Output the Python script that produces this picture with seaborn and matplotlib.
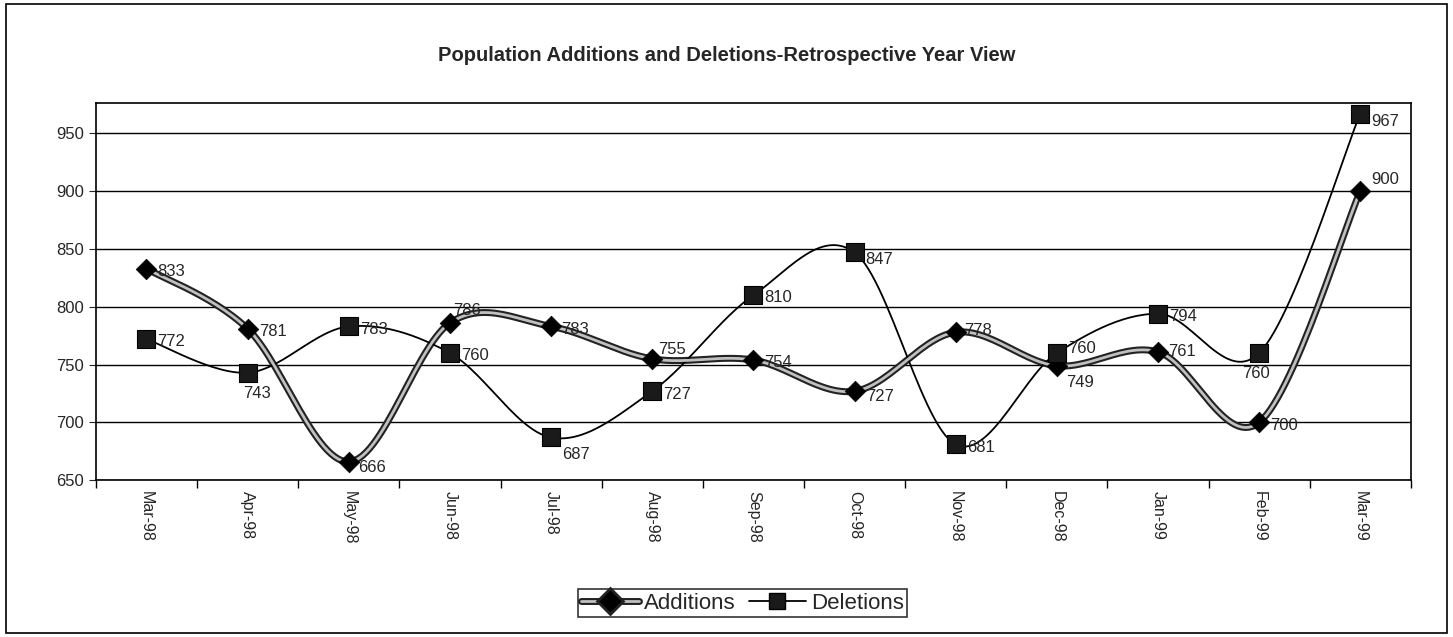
import seaborn as sns
import matplotlib.pyplot as plt
import numpy as np
from matplotlib.lines import Line2D
from matplotlib.patches import Rectangle
from matplotlib.ticker import FixedLocator
import matplotlib.patheffects as pe

# Chart data
months = ["Mar-98", "Apr-98", "May-98", "Jun-98", "Jul-98", "Aug-98", "Sep-98",
          "Oct-98", "Nov-98", "Dec-98", "Jan-99", "Feb-99", "Mar-99"]
additions = [833, 781, 666, 786, 783, 755, 754, 727, 778, 749, 761, 700, 900]
deletions = [772, 743, 783, 760, 687, 727, 810, 847, 681, 760, 794, 760, 967]

# label offsets in points (style only)
add_off = [(8, -2), (8, -2), (7, -4), (2, 9), (7, -2), (4, 7), (8, -2),
           (8, -4), (6, 1), (7, -12), (7, 0), (8, -2), (8, 8)]
del_off = [(8, -2), (-3, -15), (8, -2), (8, -2), (8, -12), (8, -2), (8, -2),
           (8, -5), (8, -2), (8, 3), (8, -2), (-12, -15), (8, -6)]


def smooth(y, n=30):
    # Bezier curve through the points, like Excel's smoothed line
    y = np.asarray(y, float)
    x = np.arange(len(y), dtype=float)
    px = np.concatenate([[x[0]], x, [x[-1]]])
    py = np.concatenate([[y[0]], y, [y[-1]]])
    xs, ys = [], []
    t = np.linspace(0, 1, n)
    for i in range(1, len(px) - 2):
        for p, out in ((px, xs), (py, ys)):
            p0, p1, p2, p3 = p[i - 1], p[i], p[i + 1], p[i + 2]
            c1 = p1 + (p2 - p0) / 6
            c2 = p2 - (p3 - p1) / 6
            out.extend((1 - t) ** 3 * p1 + 3 * (1 - t) ** 2 * t * c1
                       + 3 * (1 - t) * t ** 2 * c2 + t ** 3 * p2)
    return np.array(xs), np.array(ys)


sns.set_style("white")
plt.rcParams['font.family'] = ['Liberation Sans', 'DejaVu Sans']

fig = plt.figure(figsize=(14.53, 6.37), dpi=100)
ax = fig.add_axes([0.066, 0.246, 0.905, 0.592])
fig.patches.append(Rectangle((0.004, 0.006), 0.992, 0.988, transform=fig.transFigure,
                             fill=False, edgecolor='black', linewidth=1.2))

idx = np.arange(len(months))

ax_, ay_ = smooth(additions)
dx_, dy_ = smooth(deletions)
sns.lineplot(x=ax_, y=ay_, sort=False, ax=ax, color='#222222', linewidth=5, zorder=3)
sns.lineplot(x=ax_, y=ay_, sort=False, ax=ax, color='#c0c0c0', linewidth=2, zorder=3.1)
sns.lineplot(x=dx_, y=dy_, sort=False, ax=ax, color='black', linewidth=1.3, zorder=3)

sns.scatterplot(x=idx, y=additions, marker='D', s=110, color='black',
                edgecolor='black', linewidth=0.5, ax=ax, zorder=5)
sns.scatterplot(x=idx, y=deletions, marker='s', s=150, color='#1a1a1a',
                edgecolor='black', linewidth=0.8, ax=ax, zorder=5)

for i in idx:
    ax.annotate(str(additions[i]), (i, additions[i]), xytext=add_off[i],
                textcoords='offset points', fontsize=12, ha='left', va='center', zorder=6)
    ax.annotate(str(deletions[i]), (i, deletions[i]), xytext=del_off[i],
                textcoords='offset points', fontsize=12, ha='left', va='center', zorder=6)

ax.set_xlim(-0.5, len(months) - 0.5)
ax.set_ylim(650, 976)
ax.set_yticks(range(650, 951, 50))
ax.set_xticks(idx)
ax.set_xticklabels(months, rotation=270, fontsize=11.5)
ax.xaxis.set_minor_locator(FixedLocator(np.arange(-0.5, len(months), 1)))
ax.tick_params(axis='y', labelsize=12, length=5, direction='out', left=True)
ax.tick_params(axis='x', which='major', length=0, pad=8)
ax.tick_params(axis='x', which='minor', length=6, direction='out', bottom=True,
               color='black', width=1)
ax.grid(axis='y', color='black', linewidth=1)
ax.set_axisbelow(True)
for s in ax.spines.values():
    s.set_color('black')
    s.set_linewidth(1.2)
ax.set_xlabel('')
ax.set_ylabel('')

fig.text(0.5, 0.913, 'Population Additions and Deletions-Retrospective Year View',
         ha='center', va='center', fontsize=14.5, fontweight='bold')

handles = [
    Line2D([0], [0], color='#c0c0c0', linewidth=2, marker='D', markersize=10,
           markerfacecolor='black', markeredgecolor='black',
           path_effects=[pe.Stroke(linewidth=5, foreground='#222222'), pe.Normal()]),
    Line2D([0], [0], color='black', linewidth=1.3, marker='s', markersize=11,
           markerfacecolor='#1a1a1a', markeredgecolor='black'),
]
leg = fig.legend(handles, ['Additions', 'Deletions'], loc='center', ncol=2,
                 bbox_to_anchor=(0.511, 0.053), fontsize=16, frameon=True,
                 fancybox=False, edgecolor='black', handlelength=2.6,
                 handletextpad=0.2, columnspacing=0.6, borderpad=0.15)
leg.get_frame().set_linewidth(1.2)

plt.savefig('out.png', dpi=100)
